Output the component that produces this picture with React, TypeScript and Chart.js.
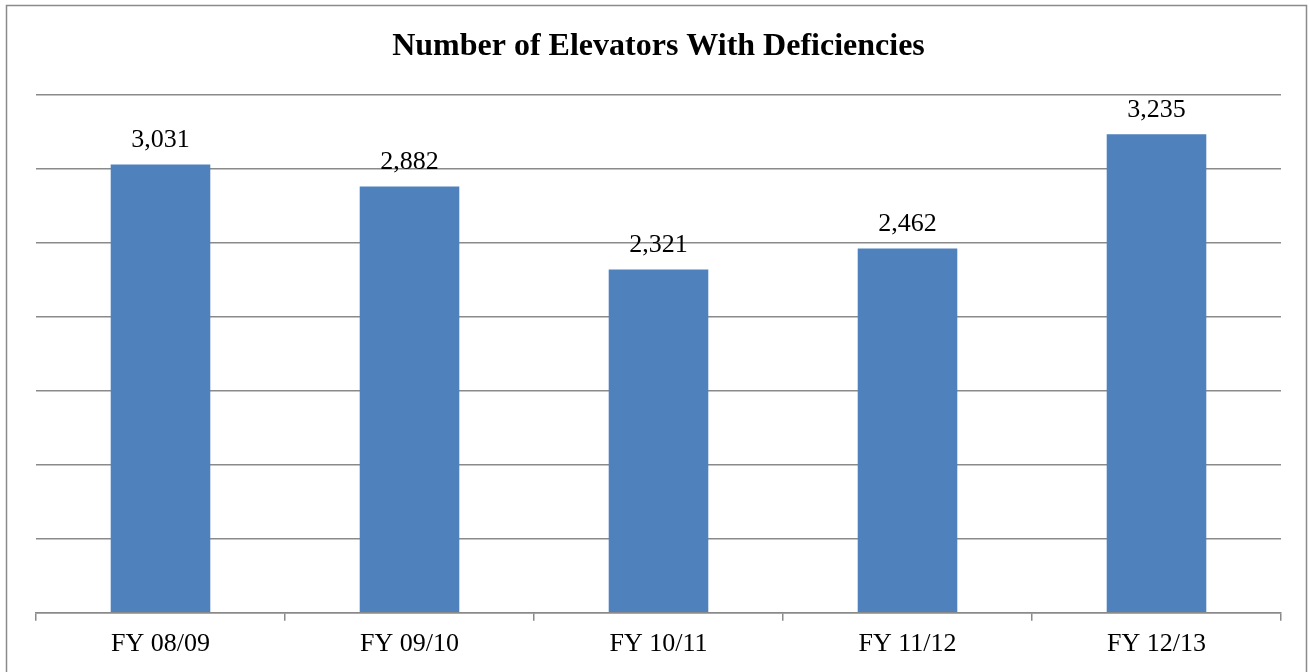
import React, { useEffect, useRef } from "react";
import { Chart, registerables } from "chart.js";

Chart.register(...registerables);

const categories = ["FY 08/09", "FY 09/10", "FY 10/11", "FY 11/12", "FY 12/13"];
const values = [3031, 2882, 2321, 2462, 3235];
const valueLabels = ["3,031", "2,882", "2,321", "2,462", "3,235"];
const yMax = 3500;
const yStep = 500;

const SERIF = '"Liberation Serif", "Times New Roman", serif';

export default function App() {
  const ref = useRef<HTMLCanvasElement | null>(null);

  useEffect(() => {
    const canvas = ref.current;
    if (!canvas) return;

    const borderPlugin = {
      id: "outerBorder",
      beforeDraw(chart: any) {
        const ctx = chart.ctx;
        ctx.save();
        ctx.fillStyle = "#ffffff";
        ctx.fillRect(0, 0, chart.width, chart.height);
        ctx.strokeStyle = "#8a8a8a";
        ctx.lineWidth = 1.5;
        ctx.strokeRect(6.5, 5.5, 1300, 700);
        ctx.restore();
      },
    };

    const labelPlugin = {
      id: "valueLabels",
      afterDatasetsDraw(chart: any) {
        const ctx = chart.ctx;
        const meta = chart.getDatasetMeta(0);
        ctx.save();
        ctx.font = `26px ${SERIF}`;
        ctx.fillStyle = "#000000";
        ctx.textAlign = "center";
        ctx.textBaseline = "alphabetic";
        meta.data.forEach((bar: any, i: number) => {
          ctx.fillText(valueLabels[i], bar.x, bar.y - 17.5);
        });
        ctx.restore();
      },
    };

    const chart = new Chart(canvas, {
      type: "bar",
      data: {
        labels: categories,
        datasets: [
          {
            data: values,
            backgroundColor: "#4F81BD",
            borderWidth: 0,
            categoryPercentage: 1,
            barPercentage: 0.4,
          },
        ],
      },
      options: {
        responsive: false,
        animation: false,
        devicePixelRatio: 1,
        layout: { padding: { left: 36, right: 29, top: 0, bottom: 4 } },
        plugins: {
          legend: { display: false },
          tooltip: { enabled: false },
          title: {
            display: true,
            text: "Number of Elevators With Deficiencies",
            color: "#000000",
            font: { family: SERIF, size: 32, weight: "bold", lineHeight: 1.2 },
            padding: { top: 28, bottom: 28.6 },
          },
        },
        scales: {
          x: {
            grid: {
              display: true,
              drawOnChartArea: false,
              drawTicks: true,
              tickLength: 8,
              color: "#8a8a8a",
              lineWidth: 1.5,
              offset: true,
            },
            border: { display: true, color: "#8a8a8a", width: 1.5 },
            ticks: {
              color: "#000000",
              font: { family: SERIF, size: 26, lineHeight: 1.2 },
              padding: 8,
              maxRotation: 0,
            },
          },
          y: {
            min: 0,
            max: yMax,
            ticks: { display: false, stepSize: yStep },
            grid: { color: "#8a8a8a", lineWidth: 1.5, drawTicks: false },
            border: { display: false },
            afterFit(scale: any) {
              scale.width = 0;
            },
          },
        },
      },
      plugins: [borderPlugin, labelPlugin],
    });

    return () => chart.destroy();
  }, []);

  return (
    <div style={{ position: "fixed", left: 0, top: 0, width: 1310, height: 672 }}>
      <canvas ref={ref} width={1310} height={672} style={{ display: "block" }} />
    </div>
  );
}
